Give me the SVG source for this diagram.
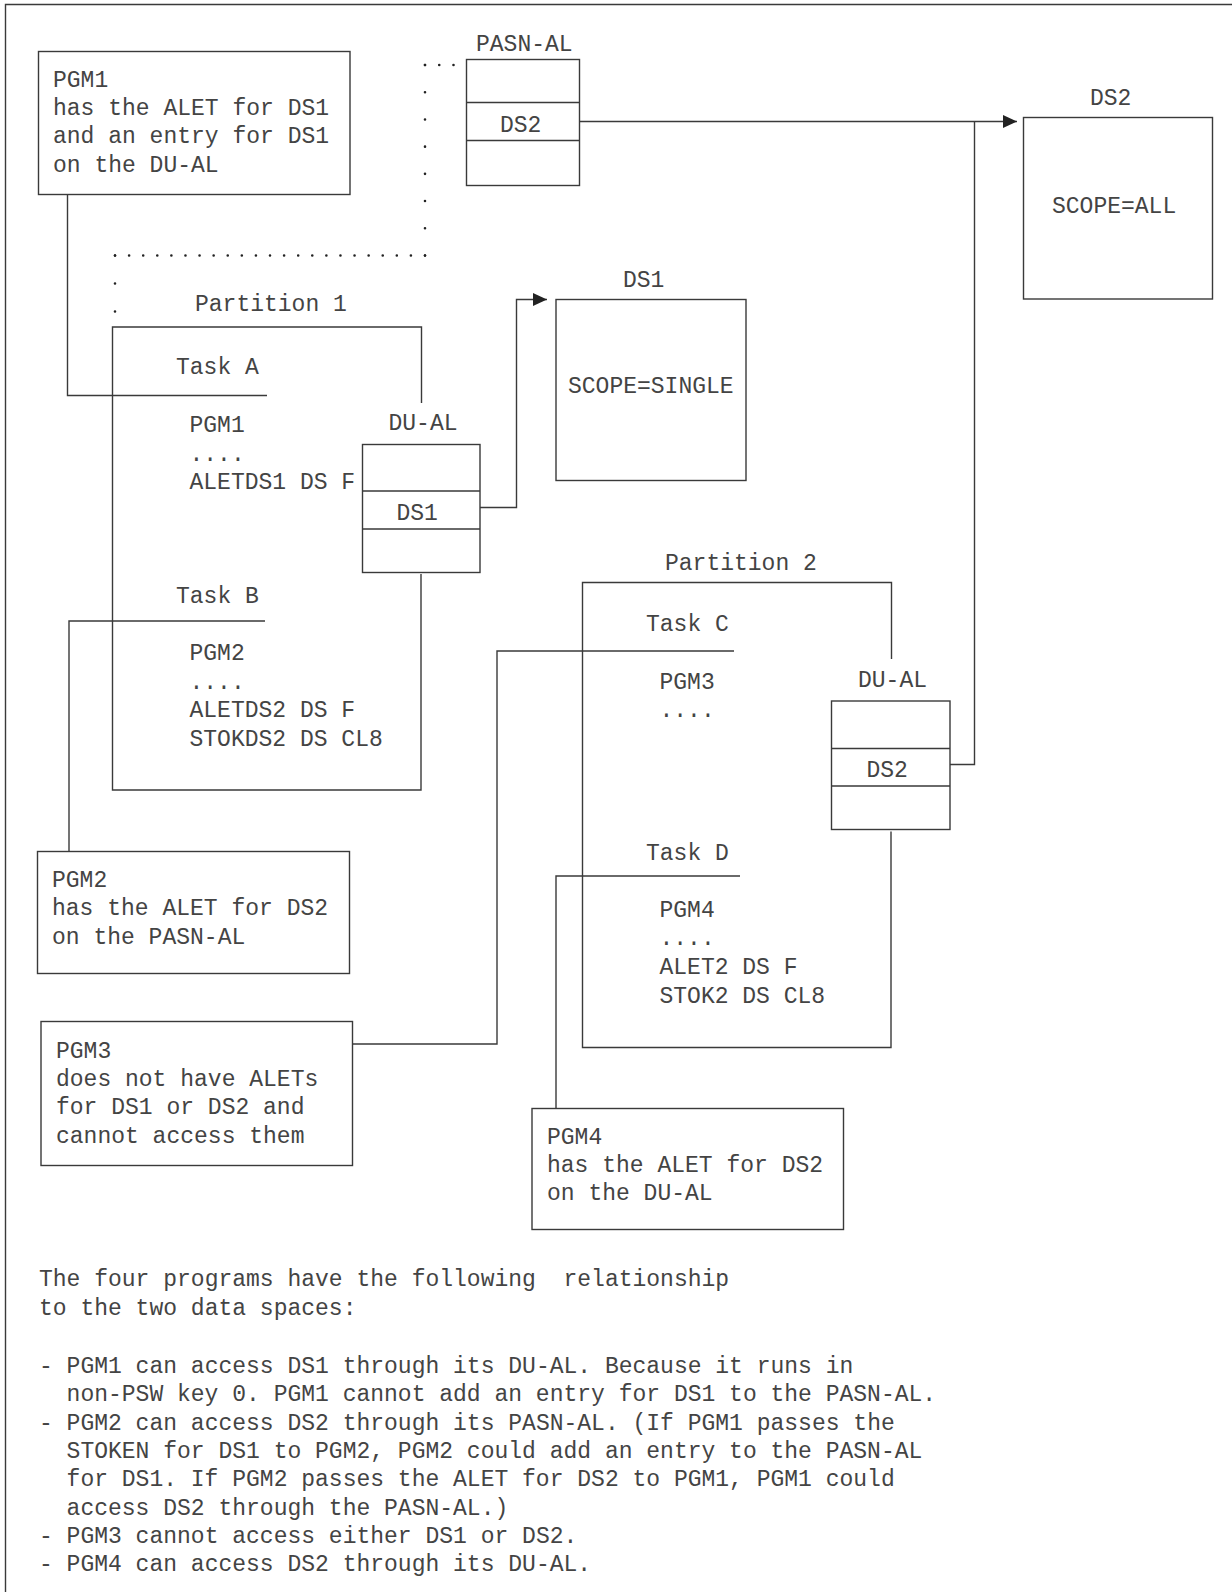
<svg xmlns="http://www.w3.org/2000/svg" width="1232" height="1592" viewBox="0 0 1232 1592">
<defs>
<style>
text{font-family:"Liberation Mono","DejaVu Sans Mono",monospace;font-size:23px;fill:#444}
.ln{fill:none;stroke:#3a3a3a;stroke-width:1.4}
.bx{fill:#fff;stroke:#3a3a3a;stroke-width:1.4}
.dot{fill:none;stroke:#222;stroke-width:2.6;stroke-linecap:round}
</style>
<marker id="arr" markerUnits="userSpaceOnUse" markerWidth="14" markerHeight="14" viewBox="0 0 12 12" refX="12" refY="6" orient="auto">
<path d="M0,0.5 L12,6 L0,11.5 Z" fill="#222"/>
</marker>
</defs>
<rect width="1232" height="1592" fill="#fff"/>
<path class="ln" d="M5.5,1592 V4.5 H1232"/>

<g id="connectors">
<path class="ln" d="M579.5,121.5 H1017" marker-end="url(#arr)"/>
<path class="ln" d="M950,764.5 H974.5 V121.5"/>
<path class="ln" d="M480,507.5 H516.5 V299.5 H547" marker-end="url(#arr)"/>
<path class="ln" d="M67.5,195 V395.5 H267"/>
<path class="ln" d="M265,621 H69 V851.5"/>
<path class="ln" d="M734,651 H497 V1044 H352.5"/>
<path class="ln" d="M740,876 H556 V1108.5"/>
<path class="dot" d="M425,65 H453.5" stroke-dasharray="0 14.249"/>
<path class="dot" d="M425,65 V255.5" stroke-dasharray="0 27.213"/>
<path class="dot" d="M425,255.5 H115" stroke-dasharray="0 14.0899"/>
<path class="dot" d="M115,255.5 V311.5" stroke-dasharray="0 27.999"/>
</g>

<g id="pgm1-note">
<rect class="bx" x="38.5" y="51.5" width="311.5" height="143"/>
<text x="53" y="86.5">PGM1</text>
<text x="53" y="115">has the ALET for DS1</text>
<text x="53" y="143">and an entry for DS1</text>
<text x="53" y="171.5">on the DU-AL</text>
</g>

<g id="pasn-al">
<text x="476" y="51">PASN-AL</text>
<rect class="bx" x="466.5" y="59.5" width="113" height="126"/>
<path class="ln" d="M466.5,102.5 H579.5 M466.5,140.5 H579.5"/>
<text x="500" y="132">DS2</text>
</g>

<g id="ds2">
<text x="1090" y="105">DS2</text>
<rect class="bx" x="1023.5" y="117.5" width="189" height="181.5"/>
<text x="1052" y="213">SCOPE=ALL</text>
</g>

<g id="ds1">
<text x="623" y="287">DS1</text>
<rect class="bx" x="556" y="299.5" width="190" height="181"/>
<text x="568" y="393">SCOPE=SINGLE</text>
</g>

<g id="partition1">
<text x="195" y="311">Partition 1</text>
<path class="ln" d="M421.5,403 V327 H112.5 V790 H421 V574"/>
<text x="176" y="374">Task A</text>
<text x="189.5" y="432">PGM1</text>
<text x="189.5" y="461">....</text>
<text x="189.5" y="489">ALETDS1 DS F</text>
<text x="176" y="603">Task B</text>
<text x="189.5" y="660">PGM2</text>
<text x="189.5" y="689">....</text>
<text x="189.5" y="717">ALETDS2 DS F</text>
<text x="189.5" y="746">STOKDS2 DS CL8</text>
</g>

<g id="du-al-1">
<text x="388.5" y="430">DU-AL</text>
<rect class="bx" x="362.5" y="444.5" width="117.5" height="128"/>
<path class="ln" d="M362.5,491 H480 M362.5,529 H480"/>
<text x="396.5" y="520">DS1</text>
</g>

<g id="partition2">
<text x="665" y="570">Partition 2</text>
<path class="ln" d="M891.5,659 V582.5 H582.5 V1047.5 H891 V831.5"/>
<text x="646" y="631">Task C</text>
<text x="659.5" y="689">PGM3</text>
<text x="659.5" y="717">....</text>
<text x="646" y="860">Task D</text>
<text x="659.5" y="917">PGM4</text>
<text x="659.5" y="945">....</text>
<text x="659.5" y="974">ALET2 DS F</text>
<text x="659.5" y="1003">STOK2 DS CL8</text>
</g>

<g id="du-al-2">
<text x="858" y="687">DU-AL</text>
<rect class="bx" x="831.5" y="701" width="118.5" height="128.5"/>
<path class="ln" d="M831.5,748.5 H950 M831.5,786 H950"/>
<text x="866.5" y="777">DS2</text>
</g>

<g id="pgm2-note">
<rect class="bx" x="37.5" y="851.5" width="312" height="122"/>
<text x="52" y="887">PGM2</text>
<text x="52" y="915">has the ALET for DS2</text>
<text x="52" y="944">on the PASN-AL</text>
</g>

<g id="pgm3-note">
<rect class="bx" x="41" y="1021.5" width="311.5" height="144"/>
<text x="56" y="1058">PGM3</text>
<text x="56" y="1086">does not have ALETs</text>
<text x="56" y="1114">for DS1 or DS2 and</text>
<text x="56" y="1143">cannot access them</text>
</g>

<g id="pgm4-note">
<rect class="bx" x="532" y="1108.5" width="311.5" height="121"/>
<text x="547" y="1144">PGM4</text>
<text x="547" y="1172">has the ALET for DS2</text>
<text x="547" y="1200">on the DU-AL</text>
</g>

<g id="explanation">
<text x="39" y="1286" xml:space="preserve">The four programs have the following  relationship</text>
<text x="39" y="1315">to the two data spaces:</text>
<text x="39" y="1373">- PGM1 can access DS1 through its DU-AL. Because it runs in</text>
<text x="66.6" y="1401">non-PSW key 0. PGM1 cannot add an entry for DS1 to the PASN-AL.</text>
<text x="39" y="1430">- PGM2 can access DS2 through its PASN-AL. (If PGM1 passes the</text>
<text x="66.6" y="1458">STOKEN for DS1 to PGM2, PGM2 could add an entry to the PASN-AL</text>
<text x="66.6" y="1486">for DS1. If PGM2 passes the ALET for DS2 to PGM1, PGM1 could</text>
<text x="66.6" y="1515">access DS2 through the PASN-AL.)</text>
<text x="39" y="1543">- PGM3 cannot access either DS1 or DS2.</text>
<text x="39" y="1571">- PGM4 can access DS2 through its DU-AL.</text>
</g>
</svg>
